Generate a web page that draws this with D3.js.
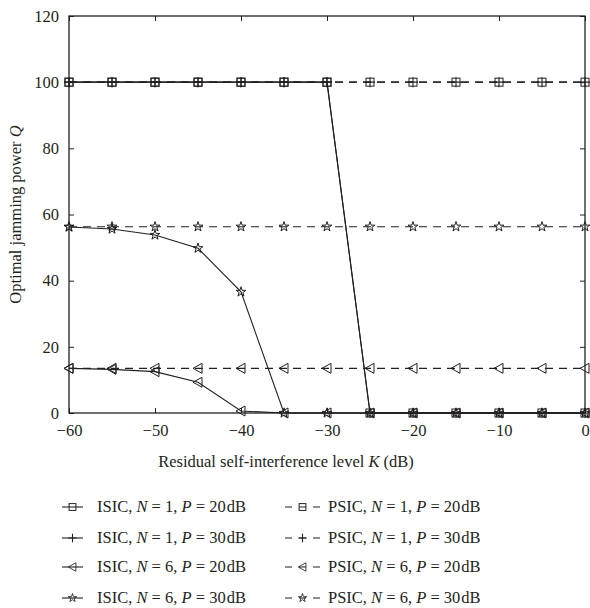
<!DOCTYPE html>
<html>
<head>
<meta charset="utf-8">
<script src="https://cdn.jsdelivr.net/npm/d3@7"></script>
<style>
  body { margin: 0; background: #fff; }
  text { font-family: "Liberation Serif", "DejaVu Serif", serif; fill: #231f20; }
</style>
</head>
<body>
<svg id="svg-main" width="590" height="608"></svg>
<script>
const levelK = [-60, -55, -50, -45, -40, -35, -30, -25, -20, -15, -10, -5, 0];

const isicN1P20 = [100, 100, 100, 100, 100, 100, 100, 0, 0, 0, 0, 0, 0];
const isicN1P30 = [100, 100, 100, 100, 100, 100, 100, 0, 0, 0, 0, 0, 0];
const isicN6P20 = [13.5, 13.2, 12.5, 9.3, 0.6, 0, 0, 0, 0, 0, 0, 0, 0];
const isicN6P30 = [56.2, 55.6, 53.8, 49.8, 36.6, 0, 0, 0, 0, 0, 0, 0, 0];
const psicN1P20 = [100, 100, 100, 100, 100, 100, 100, 100, 100, 100, 100, 100, 100];
const psicN1P30 = [100, 100, 100, 100, 100, 100, 100, 100, 100, 100, 100, 100, 100];
const psicN6P20 = [13.5, 13.5, 13.5, 13.5, 13.5, 13.5, 13.5, 13.5, 13.5, 13.5, 13.5, 13.5, 13.5];
const psicN6P30 = [56.3, 56.3, 56.3, 56.3, 56.3, 56.3, 56.3, 56.3, 56.3, 56.3, 56.3, 56.3, 56.3];

const xTicks = [-60, -50, -40, -30, -20, -10, 0];
const yTicks = [0, 20, 40, 60, 80, 100, 120];

const seriesList = [
    { scheme: "ISIC", n: 1, p: 20, values: isicN1P20, marker: "square", dashed: false },
    { scheme: "ISIC", n: 1, p: 30, values: isicN1P30, marker: "plus", dashed: false },
    { scheme: "ISIC", n: 6, p: 20, values: isicN6P20, marker: "triangle", dashed: false },
    { scheme: "ISIC", n: 6, p: 30, values: isicN6P30, marker: "star", dashed: false },
    { scheme: "PSIC", n: 1, p: 20, values: psicN1P20, marker: "square", dashed: true },
    { scheme: "PSIC", n: 1, p: 30, values: psicN1P30, marker: "plus", dashed: true },
    { scheme: "PSIC", n: 6, p: 20, values: psicN6P20, marker: "triangle", dashed: true },
    { scheme: "PSIC", n: 6, p: 30, values: psicN6P30, marker: "star", dashed: true }
];

var Dims = {
    Margin: { Top: 16, Left: 69, Right: 5, Bottom: 195 },
    Width: 590,
    Height: 608
};
var plotW = Dims.Width - Dims.Margin.Left - Dims.Margin.Right;
var plotH = Dims.Height - Dims.Margin.Top - Dims.Margin.Bottom;

var svg = d3.select("svg#svg-main");
var ink = "#231f20";
var fontSize = 16.5;

var x = d3.scaleLinear().domain([-60, 0]).range([0, plotW]);
var y = d3.scaleLinear().domain([0, 120]).range([plotH, 0]);

var chart = svg.append("g")
    .attr("transform", `translate(${Dims.Margin.Left},${Dims.Margin.Top})`);

// axes, ticks pointing inward on all four sides
function styleAxis(g) {
    g.select(".domain").remove();
    g.selectAll(".tick line").attr("stroke", ink).attr("stroke-width", 1);
    g.selectAll(".tick text").attr("font-size", fontSize).attr("fill", ink)
        .style("font-family", "'Liberation Serif', serif");
}

chart.append("g")
    .attr("transform", `translate(0,${plotH})`)
    .call(d3.axisBottom(x).tickValues(xTicks).tickSize(-5).tickPadding(11)
        .tickFormat(d => d < 0 ? "\u2212" + Math.abs(d) : d))
    .call(styleAxis);
chart.append("g")
    .call(d3.axisTop(x).tickValues(xTicks).tickSize(-5).tickFormat(""))
    .call(styleAxis);
chart.append("g")
    .call(d3.axisLeft(y).tickValues(yTicks).tickSize(-5).tickPadding(10))
    .call(styleAxis);
chart.append("g")
    .attr("transform", `translate(${plotW},0)`)
    .call(d3.axisRight(y).tickValues(yTicks).tickSize(-5).tickFormat(""))
    .call(styleAxis);

chart.append("rect")
    .attr("width", plotW).attr("height", plotH)
    .attr("fill", "none").attr("stroke", ink).attr("stroke-width", 1.3);

// markers
var starPath = d3.symbol().type(d3.symbolStar).size(30)();
var triPath = "M-5,0L4,-5L4,5Z";

function drawMarker(sel, type, size) {
    var s = size || 1;
    if (type === "square") {
        sel.append("rect").attr("x", -4 * s).attr("y", -4 * s)
            .attr("width", 8 * s).attr("height", 8 * s)
            .attr("fill", "none").attr("stroke", ink).attr("stroke-width", 1);
    } else if (type === "plus") {
        sel.append("path").attr("d", `M${-5 * s},0H${5 * s}M0,${-5 * s}V${5 * s}`)
            .attr("stroke", ink).attr("stroke-width", 1.1);
    } else if (type === "triangle") {
        sel.append("path").attr("d", triPath).attr("transform", `scale(${s})`)
            .attr("fill", "none").attr("stroke", ink).attr("stroke-width", 1);
    } else if (type === "star") {
        sel.append("path").attr("d", starPath).attr("transform", `scale(${s})`)
            .attr("fill", "none").attr("stroke", ink).attr("stroke-width", 1);
    }
}

var line = d3.line()
    .x((d, i) => x(levelK[i]))
    .y(d => y(d));

seriesList.forEach(function (s) {
    chart.append("path")
        .datum(s.values)
        .attr("d", line)
        .attr("fill", "none")
        .attr("stroke", ink)
        .attr("stroke-width", 1.1)
        .attr("stroke-dasharray", s.dashed ? "8,6" : null);
});

seriesList.forEach(function (s) {
    s.values.forEach(function (v, i) {
        var g = chart.append("g")
            .attr("transform", `translate(${x(levelK[i])},${y(v)})`);
        drawMarker(g, s.marker);
    });
});

// axis titles
svg.append("text")
    .attr("x", 286)
    .attr("y", 467)
    .attr("text-anchor", "middle")
    .attr("font-size", fontSize)
    .html("Residual self-interference level <tspan font-style='italic'>K</tspan> (dB)");

svg.append("text")
    .attr("transform", `translate(21,${Dims.Margin.Top + plotH / 2}) rotate(-90)`)
    .attr("text-anchor", "middle")
    .attr("font-size", fontSize)
    .html("Optimal jamming power <tspan font-style='italic'>Q</tspan>");

// legend
var legendRows = [507, 538, 567, 598];
var legendCols = [{ lx: 62, tx: 97 }, { lx: 285, tx: 328 }];

seriesList.forEach(function (s, idx) {
    var col = legendCols[s.scheme === "ISIC" ? 0 : 1];
    var row = legendRows[idx % 4];
    var lg = svg.append("g").attr("transform", `translate(0,${row})`);
    var lineLen = s.dashed ? 35 : 21;
    lg.append("line")
        .attr("x1", col.lx).attr("x2", col.lx + lineLen)
        .attr("stroke", ink).attr("stroke-width", 1.1)
        .attr("stroke-dasharray", s.dashed ? "7,7" : null);
    var mg = lg.append("g").attr("transform", `translate(${col.lx + lineLen / 2},0)`);
    drawMarker(mg, s.marker, 0.85);
    lg.append("text")
        .attr("x", col.tx).attr("y", 5)
        .attr("font-size", fontSize)
        .html(`${s.scheme}, <tspan font-style='italic'>N</tspan> = ${s.n}, <tspan font-style='italic'>P</tspan> = ${s.p}<tspan font-size='4'> </tspan>dB`);
});
</script>
</body>
</html>
